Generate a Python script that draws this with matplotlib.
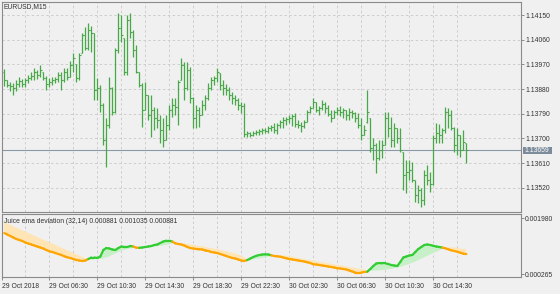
import numpy as np
import pandas as pd
import matplotlib
matplotlib.use("Agg")
import matplotlib.pyplot as plt
from matplotlib.collections import LineCollection
from matplotlib.patches import Rectangle

plt.rcParams['font.family'] = ['Liberation Sans', 'DejaVu Sans']

# ---------------- data ----------------
symbol_title = "EURUSD,M15"
indicator_title = "Juice ema deviation (32,14) 0.000881 0.001035 0.000881"
first_bar_time = "2018-10-29 02:45"

highs = [1.13953, 1.13913, 1.13905, 1.13902, 1.13913, 1.13924, 1.13916, 1.13920, 1.13931, 1.13942,
         1.13957, 1.13949, 1.13968, 1.13942, 1.13927, 1.13920, 1.13924, 1.13924, 1.13942, 1.13942,
         1.13957, 1.13957, 1.13982, 1.14011, 1.13971, 1.14011, 1.14084, 1.14106, 1.14121, 1.14110,
         1.14084, 1.13920, 1.13895, 1.13829, 1.13774, 1.13924, 1.13887, 1.14030, 1.14157, 1.14150,
         1.14066, 1.14150, 1.14157, 1.14095, 1.14041, 1.13942, 1.13902, 1.13905, 1.13858, 1.13858,
         1.13814, 1.13811, 1.13785, 1.13774, 1.13785, 1.13822, 1.13847, 1.13847, 1.13913, 1.13993,
         1.13978, 1.13978, 1.13960, 1.13851, 1.13822, 1.13814, 1.13840, 1.13858, 1.13902, 1.13924,
         1.13927, 1.13957, 1.13938, 1.13913, 1.13898, 1.13887, 1.13869, 1.13858, 1.13847, 1.13832,
         1.13829, 1.13727, 1.13723, 1.13727, 1.13730, 1.13734, 1.13738, 1.13738, 1.13745, 1.13749,
         1.13756, 1.13756, 1.13767, 1.13778, 1.13778, 1.13785, 1.13789, 1.13792, 1.13767, 1.13759,
         1.13767, 1.13803, 1.13818, 1.13847, 1.13832, 1.13818, 1.13840, 1.13832, 1.13822, 1.13803,
         1.13803, 1.13814, 1.13818, 1.13811, 1.13803, 1.13811, 1.13803, 1.13796, 1.13792, 1.13774,
         1.13749, 1.13876, 1.13774, 1.13701, 1.13683, 1.13694, 1.13694, 1.13796, 1.13796, 1.13778,
         1.13756, 1.13738, 1.13738, 1.13650, 1.13621, 1.13621, 1.13613, 1.13548, 1.13530, 1.13519,
         1.13584, 1.13603, 1.13577, 1.13712, 1.13756, 1.13752, 1.13738, 1.13814, 1.13811, 1.13803,
         1.13741, 1.13738, 1.13712, 1.13730, 1.13683]

lows = [1.13891, 1.13887, 1.13873, 1.13858, 1.13873, 1.13887, 1.13887, 1.13887, 1.13902, 1.13913,
        1.13913, 1.13916, 1.13924, 1.13913, 1.13876, 1.13887, 1.13895, 1.13902, 1.13905, 1.13876,
        1.13905, 1.13913, 1.13924, 1.13942, 1.13905, 1.13913, 1.14011, 1.14022, 1.14022, 1.14015,
        1.13840, 1.13840, 1.13796, 1.13676, 1.13595, 1.13738, 1.13785, 1.13792, 1.14011, 1.14051,
        1.13931, 1.13931, 1.14066, 1.13997, 1.13938, 1.13887, 1.13741, 1.13803, 1.13767, 1.13705,
        1.13730, 1.13738, 1.13683, 1.13668, 1.13694, 1.13730, 1.13778, 1.13785, 1.13749, 1.13913,
        1.13840, 1.13876, 1.13829, 1.13738, 1.13738, 1.13741, 1.13785, 1.13803, 1.13840, 1.13876,
        1.13895, 1.13905, 1.13876, 1.13858, 1.13858, 1.13840, 1.13825, 1.13822, 1.13803, 1.13792,
        1.13705, 1.13705, 1.13705, 1.13708, 1.13712, 1.13712, 1.13716, 1.13719, 1.13719, 1.13727,
        1.13719, 1.13716, 1.13738, 1.13738, 1.13749, 1.13756, 1.13745, 1.13741, 1.13738, 1.13723,
        1.13738, 1.13759, 1.13792, 1.13811, 1.13796, 1.13785, 1.13803, 1.13792, 1.13781, 1.13759,
        1.13774, 1.13785, 1.13781, 1.13774, 1.13767, 1.13767, 1.13774, 1.13759, 1.13738, 1.13694,
        1.13712, 1.13756, 1.13650, 1.13621, 1.13573, 1.13621, 1.13628, 1.13676, 1.13705, 1.13668,
        1.13668, 1.13683, 1.13650, 1.13511, 1.13500, 1.13548, 1.13540, 1.13467, 1.13464, 1.13449,
        1.13457, 1.13530, 1.13504, 1.13530, 1.13683, 1.13683, 1.13683, 1.13719, 1.13738, 1.13730,
        1.13650, 1.13639, 1.13632, 1.13657, 1.13610]

opens = [1.13942, 1.13913, 1.13895, 1.13891, 1.13884, 1.13898, 1.13909, 1.13898, 1.13913, 1.13920,
         1.13927, 1.13942, 1.13931, 1.13942, 1.13920, 1.13898, 1.13905, 1.13913, 1.13916, 1.13931,
         1.13913, 1.13942, 1.13924, 1.13968, 1.13971, 1.13920, 1.14011, 1.14077, 1.14030, 1.14095,
         1.14084, 1.13876, 1.13884, 1.13822, 1.13694, 1.13749, 1.13884, 1.13796, 1.14022, 1.14103,
         1.14066, 1.13942, 1.14132, 1.14088, 1.14022, 1.13942, 1.13895, 1.13803, 1.13858, 1.13785,
         1.13803, 1.13774, 1.13767, 1.13730, 1.13694, 1.13749, 1.13803, 1.13822, 1.13814, 1.13913,
         1.13968, 1.13884, 1.13949, 1.13847, 1.13774, 1.13803, 1.13785, 1.13822, 1.13847, 1.13884,
         1.13913, 1.13920, 1.13938, 1.13895, 1.13884, 1.13876, 1.13858, 1.13847, 1.13840, 1.13822,
         1.13818, 1.13716, 1.13719, 1.13712, 1.13719, 1.13723, 1.13727, 1.13730, 1.13727, 1.13738,
         1.13741, 1.13730, 1.13749, 1.13759, 1.13767, 1.13770, 1.13774, 1.13781, 1.13752, 1.13749,
         1.13745, 1.13759, 1.13796, 1.13811, 1.13832, 1.13803, 1.13811, 1.13825, 1.13811, 1.13789,
         1.13774, 1.13796, 1.13803, 1.13796, 1.13803, 1.13785, 1.13796, 1.13792, 1.13774, 1.13749,
         1.13712, 1.13759, 1.13774, 1.13665, 1.13676, 1.13628, 1.13657, 1.13676, 1.13774, 1.13738,
         1.13694, 1.13738, 1.13701, 1.13650, 1.13566, 1.13577, 1.13584, 1.13548, 1.13493, 1.13511,
         1.13475, 1.13566, 1.13548, 1.13533, 1.13701, 1.13719, 1.13712, 1.13730, 1.13796, 1.13785,
         1.13738, 1.13676, 1.13712, 1.13657, 1.13683]

closes = [1.13913, 1.13895, 1.13891, 1.13884, 1.13898, 1.13909, 1.13898, 1.13913, 1.13920, 1.13927,
          1.13942, 1.13931, 1.13949, 1.13920, 1.13898, 1.13905, 1.13913, 1.13916, 1.13931, 1.13913,
          1.13942, 1.13924, 1.13968, 1.13993, 1.13920, 1.14004, 1.14077, 1.14030, 1.14095, 1.14084,
          1.13876, 1.13884, 1.13822, 1.13694, 1.13749, 1.13884, 1.13796, 1.14022, 1.14103, 1.14077,
          1.13942, 1.14132, 1.14088, 1.14022, 1.13942, 1.13895, 1.13803, 1.13858, 1.13785, 1.13803,
          1.13774, 1.13767, 1.13730, 1.13694, 1.13749, 1.13803, 1.13822, 1.13814, 1.13905, 1.13968,
          1.13884, 1.13949, 1.13847, 1.13774, 1.13803, 1.13785, 1.13822, 1.13847, 1.13884, 1.13913,
          1.13920, 1.13942, 1.13895, 1.13884, 1.13876, 1.13858, 1.13847, 1.13840, 1.13822, 1.13818,
          1.13716, 1.13719, 1.13712, 1.13719, 1.13723, 1.13727, 1.13730, 1.13727, 1.13738, 1.13741,
          1.13730, 1.13749, 1.13759, 1.13767, 1.13770, 1.13774, 1.13781, 1.13752, 1.13749, 1.13745,
          1.13759, 1.13796, 1.13811, 1.13832, 1.13803, 1.13811, 1.13825, 1.13811, 1.13789, 1.13774,
          1.13796, 1.13803, 1.13796, 1.13803, 1.13785, 1.13796, 1.13792, 1.13774, 1.13749, 1.13712,
          1.13730, 1.13796, 1.13665, 1.13676, 1.13628, 1.13657, 1.13676, 1.13774, 1.13738, 1.13694,
          1.13738, 1.13701, 1.13657, 1.13566, 1.13577, 1.13584, 1.13548, 1.13493, 1.13511, 1.13475,
          1.13566, 1.13548, 1.13533, 1.13701, 1.13719, 1.13712, 1.13730, 1.13796, 1.13785, 1.13738,
          1.13676, 1.13712, 1.13657, 1.13686, 1.13659]

# indicator: deviation line and its signal (values in units of 1e-6)
dev_line_e6 = [1523, 1477, 1432, 1386, 1340, 1310, 1279, 1234, 1203, 1173,
               1142, 1112, 1081, 1051, 1005, 966, 944, 914, 883, 853,
               813, 783, 762, 731, 701, 685, 670, 685, 731, 777,
               777, 762, 807, 1005, 1066, 1051, 1021, 1005, 1066, 1112,
               1097, 1097, 1127, 1112, 1075, 1072, 1081, 1097, 1112, 1127,
               1158, 1173, 1219, 1264, 1289, 1289, 1264, 1210, 1188, 1173,
               1142, 1097, 1066, 1051, 1036, 1027, 1021, 990, 975, 944,
               929, 914, 883, 853, 822, 792, 762, 746, 716, 685,
               670, 701, 746, 792, 829, 853, 868, 874, 868, 844,
               822, 813, 801, 777, 752, 731, 716, 701, 685, 670,
               655, 631, 609, 570, 564, 548, 533, 518, 503, 487,
               472, 448, 442, 427, 411, 381, 350, 320, 320, 320,
               335, 344, 427, 518, 594, 609, 600, 600, 579, 548,
               533, 518, 640, 777, 807, 838, 853, 944, 1036, 1097,
               1158, 1173, 1158, 1133, 1112, 1097, 1081, 1057, 1027, 996,
               975, 953, 923, 893, 881]

signal_e6 = [1858, 1812, 1767, 1727, 1688, 1645, 1605, 1566, 1523, 1484,
             1444, 1401, 1362, 1322, 1279, 1240, 1200, 1158, 1118, 1078,
             1036, 996, 957, 914, 874, 835, 792, 752, 735, 722,
             722, 725, 731, 752, 777, 813, 853, 899, 944, 981,
             1011, 1036, 1054, 1066, 1078, 1081, 1072, 1078, 1088, 1097,
             1109, 1121, 1133, 1148, 1164, 1182, 1200, 1219, 1219, 1213,
             1203, 1191, 1179, 1164, 1148, 1133, 1118, 1100, 1081, 1063,
             1045, 1027, 1008, 990, 969, 947, 923, 899, 871, 822,
             774, 725, 716, 725, 737, 752, 768, 786, 804, 822,
             838, 844, 847, 841, 829, 813, 798, 780, 762, 743,
             725, 710, 695, 679, 661, 646, 628, 612, 597, 582,
             564, 548, 533, 518, 503, 484, 469, 454, 439, 423,
             405, 387, 378, 375, 378, 384, 393, 405, 417, 433,
             451, 469, 490, 518, 548, 582, 618, 658, 701, 743,
             786, 829, 871, 914, 953, 993, 1030, 1066, 1081, 1088,
             1081, 1066, 1051, 1039, 1035]

price_ticks = [1.14150, 1.14060, 1.13970, 1.13880, 1.13790, 1.13700, 1.13610, 1.13520]
ind_ticks = [0.001980, 0.000265]

# ---------------- styling ----------------
bg = '#f0f0f0'
bar_color = '#46a846'
grid_color = '#cdcdcd'
spine_color = '#8a8a8a'
text_color = '#333333'
up_color = '#32cd32'
dn_color = '#ffa500'
up_fill = '#c8f0c8'
dn_fill = '#ffe4b5'
price_line_color = '#8a99a8'
fs = 4.9

W, H = 560.0, 294.0
def fx(px):
    return px / W
def fy(py):
    return 1 - py / H

fig = plt.figure(figsize=(5.6, 2.94), dpi=100, facecolor=bg)
ax1 = fig.add_axes([fx(1.7), fy(212.3), fx(520.7) - fx(1.7), fy(2) - fy(212.3)])
ax2 = fig.add_axes([fx(1.7), fy(277.3), fx(520.7) - fx(1.7), fy(214.3) - fy(277.3)])

n = len(highs)
idx = np.arange(n)
times = pd.date_range(first_bar_time, periods=n, freq='15min')
label_idx = [i for i, t in enumerate(times) if t.minute == 30 and t.hour % 4 == 2]
grid_idx = [i for i, t in enumerate(times) if t.minute == 30 and t.hour % 2 == 0]

xmin, xmax = -0.87, 172.13

for ax in (ax1, ax2):
    ax.set_facecolor(bg)
    ax.set_xlim(xmin, xmax)
    for s in ax.spines.values():
        s.set_color(spine_color)
        s.set_linewidth(0.8)
    for g in grid_idx:
        ax.axvline(g, color=grid_color, lw=0.7, ls=(0, (2.5, 2.5)), zorder=0)

# ---- main price panel (OHLC bars) ----
ax1.set_ylim(1.134310, 1.141975)
for p in price_ticks:
    ax1.axhline(p, color=grid_color, lw=0.7, ls=(0, (2.5, 2.5)), zorder=0)
ax1.vlines(idx, lows, highs, color=bar_color, lw=0.9, zorder=3)
ax1.hlines(opens, idx - 0.42, idx, color=bar_color, lw=0.8, zorder=3)
ax1.hlines(closes, idx, idx + 0.42, color=bar_color, lw=0.8, zorder=3)
ax1.axhline(closes[-1], color=price_line_color, lw=0.8, zorder=2)

ax1.yaxis.tick_right()
ax1.set_yticks(price_ticks)
ax1.set_yticklabels([f"{p:.5f}" for p in price_ticks])
ax1.tick_params(axis='y', length=2.2, width=0.7, color=spine_color, pad=1,
                labelsize=fs, labelcolor=text_color)
ax1.set_xticks([])

fig.text(fx(4), fy(7), symbol_title, fontsize=fs, color=text_color, va='center', ha='left')

# current price label
fig.patches.append(Rectangle((fx(522.8), fy(154.3)), fx(551.5) - fx(522.8), fy(146.7) - fy(154.3),
                             transform=fig.transFigure, facecolor='#7d8c9b', edgecolor='none'))
fig.text(fx(524.2), fy(150.6), f"{closes[-1]:.5f}", fontsize=fs, color='white', va='center', ha='left')

# ---- indicator panel ----
line_v = np.array(dev_line_e6) * 1e-6
sig_v = np.array(signal_e6) * 1e-6
ax2.set_ylim(0.000174, 0.002093)
ax2.fill_between(idx, line_v, sig_v, where=sig_v >= line_v, interpolate=True,
                 color=dn_fill, lw=0, zorder=1)
ax2.fill_between(idx, line_v, sig_v, where=line_v >= sig_v, interpolate=True,
                 color=up_fill, lw=0, zorder=1)
pts = np.column_stack([idx, line_v])
segs = np.stack([pts[:-1], pts[1:]], axis=1)
cols = [up_color if line_v[k + 1] >= sig_v[k + 1] else dn_color for k in range(n - 1)]
ax2.add_collection(LineCollection(segs, colors=cols, linewidths=1.6, capstyle='round', zorder=3))

ax2.yaxis.tick_right()
ax2.set_yticks(ind_ticks)
ax2.set_yticklabels([f"{v:.6f}" for v in ind_ticks])
ax2.tick_params(axis='y', length=2.2, width=0.7, color=spine_color, pad=1,
                labelsize=fs, labelcolor=text_color)

xt = [xmin] + label_idx
xl = [times[0].strftime('%d %b %Y')] + [times[i].strftime('%d %b %H:%M') for i in label_idx]
ax2.set_xticks(xt)
ax2.set_xticklabels(xl)
ax2.tick_params(axis='x', length=2.5, width=0.7, color=spine_color, pad=1.5,
                labelsize=fs, labelcolor=text_color)
for lbl in ax2.get_xticklabels():
    lbl.set_ha('left')

ax2.text(0.005, 0.89, indicator_title, transform=ax2.transAxes, fontsize=fs,
         color=text_color, va='center', ha='left')

fig.savefig('out.png', dpi=100, facecolor=bg)
